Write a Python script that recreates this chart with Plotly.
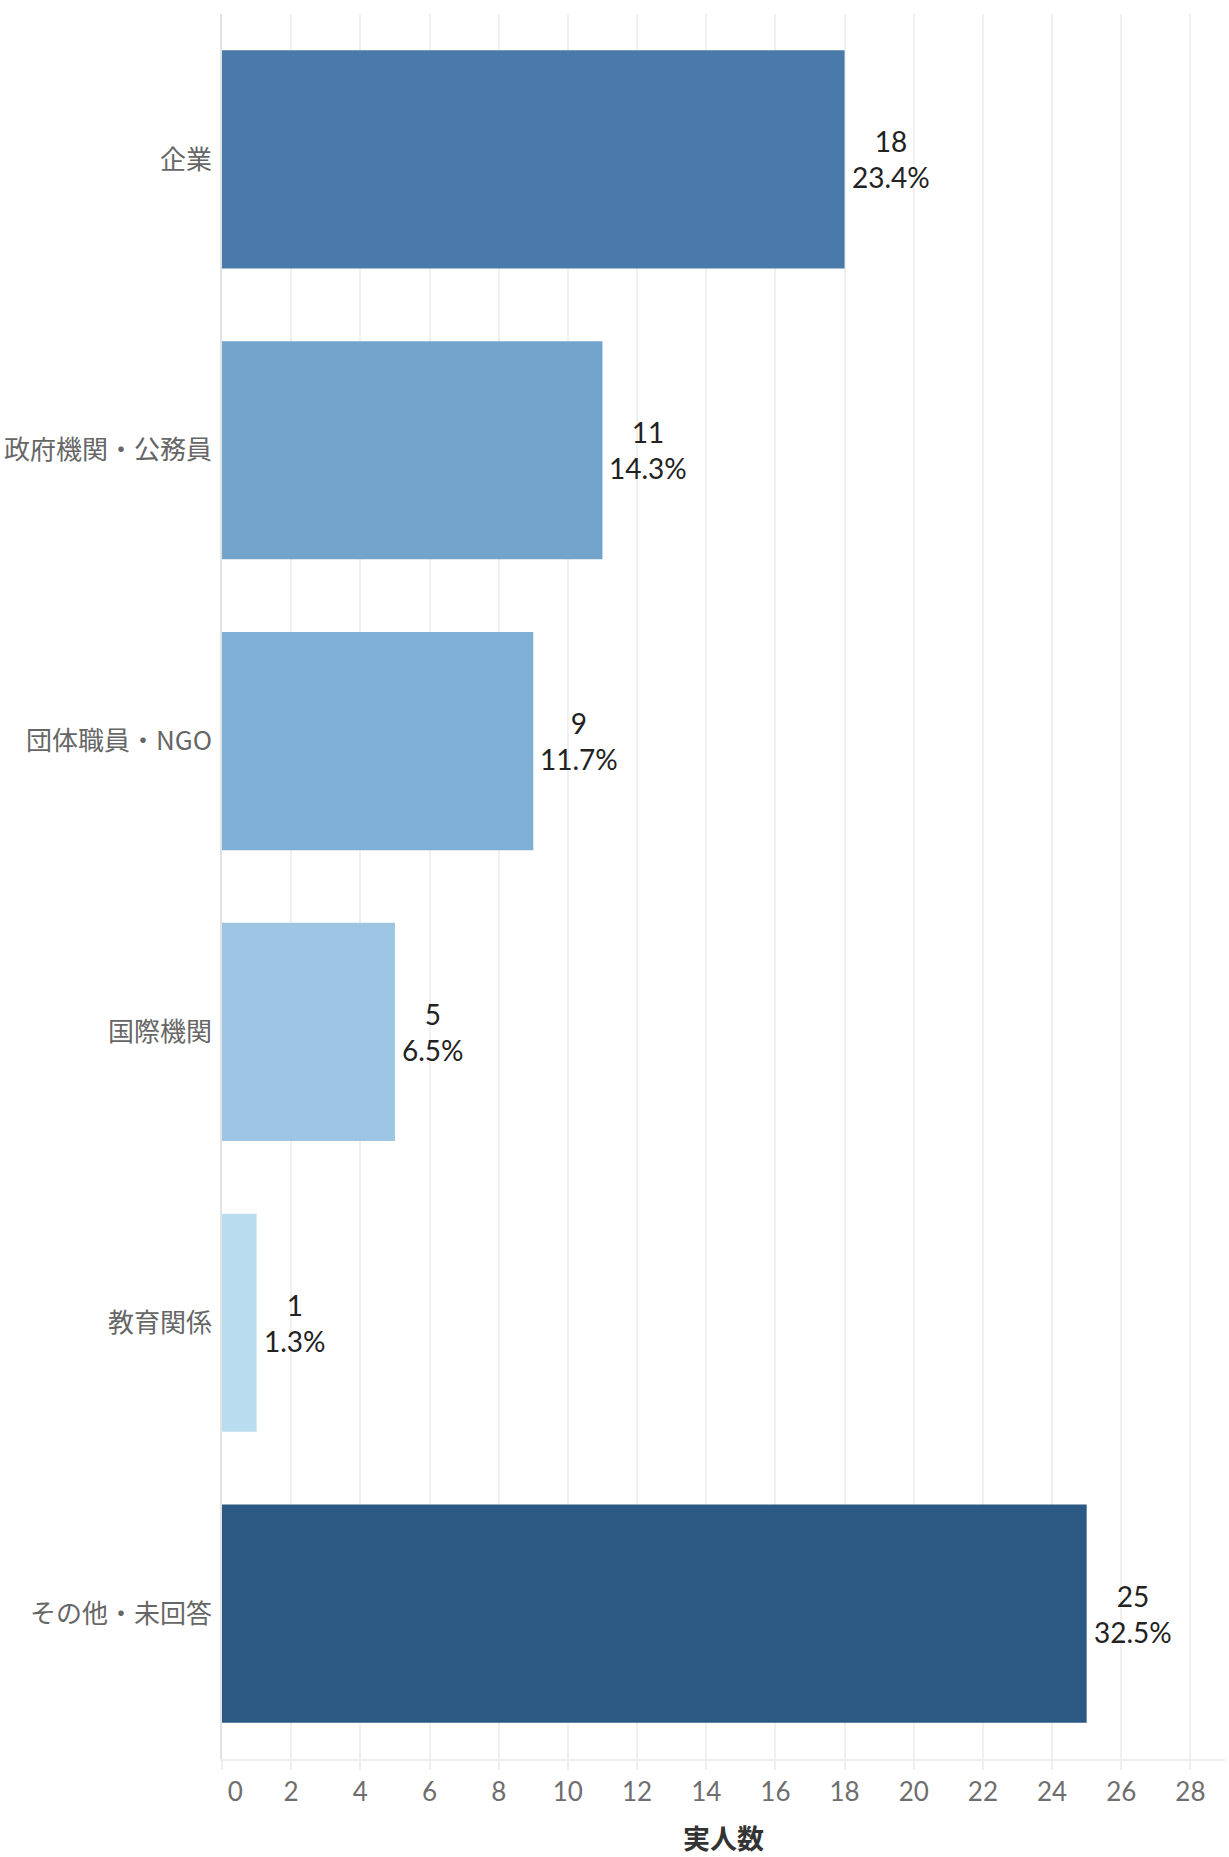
import plotly.graph_objects as go

# Respondent destinations (実人数) with their share of the total
categories = ["企業", "政府機関・公務員", "団体職員・NGO", "国際機関", "教育関係", "その他・未回答"]
counts = [18, 11, 9, 5, 1, 25]
percents = [23.4, 14.3, 11.7, 6.5, 1.3, 32.5]
bar_colors = ["#4a7aaa", "#73a4cc", "#80afd6", "#9dc6e4", "#b9dcef", "#2c5884"]
x_ticks = list(range(0, 29, 2))

FONT = "Lato, Noto Sans CJK JP, sans-serif"
CJK = "Noto Sans CJK JP, sans-serif"

# the first tick label sits just inside the plot edge
tick_text = [("\u00a0" * 4 + str(v)) if v == 0 else str(v) for v in x_ticks]

fig = go.Figure(
    go.Bar(
        x=counts,
        y=categories,
        orientation="h",
        marker=dict(color=bar_colors, line=dict(width=0)),
        hoverinfo="skip",
    )
)

# value + percentage label to the right of every bar
for cat, n, p in zip(categories, counts, percents):
    fig.add_annotation(
        x=n,
        y=cat,
        xref="x",
        yref="y",
        text=f"{n}<br>{p:.1f}%",
        showarrow=False,
        xanchor="left",
        yanchor="middle",
        xshift=5,
        align="center",
        font=dict(family=FONT, size=28, color="#222222"),
    )

fig.update_layout(
    width=1229,
    height=1857,
    margin=dict(l=222, r=4, t=14, b=98),
    paper_bgcolor="white",
    plot_bgcolor="white",
    bargap=0.25,
    showlegend=False,
    font=dict(family=FONT),
)

fig.update_xaxes(
    range=[0, 29],
    tickvals=x_ticks,
    ticktext=tick_text,
    showgrid=True,
    gridcolor="#f0f0f0",
    gridwidth=1.5,
    zeroline=False,
    showline=True,
    linecolor="#eeeeee",
    linewidth=1.5,
    ticks="outside",
    ticklen=9,
    tickcolor="#eeeeee",
    tickwidth=1.5,
    tickfont=dict(family=FONT, size=26, color="#6e6e6e"),
    title=dict(
        text="<b>実人数</b>",
        font=dict(family=CJK, size=27, color="#333333"),
        standoff=26,
    ),
)

fig.update_yaxes(
    autorange="reversed",
    showgrid=False,
    showline=True,
    linecolor="#e2e2e2",
    linewidth=1.5,
    ticks="",
    ticklabelstandoff=3,
    tickfont=dict(family=CJK, size=26, color="#666666"),
)

fig.write_html("out.html")
